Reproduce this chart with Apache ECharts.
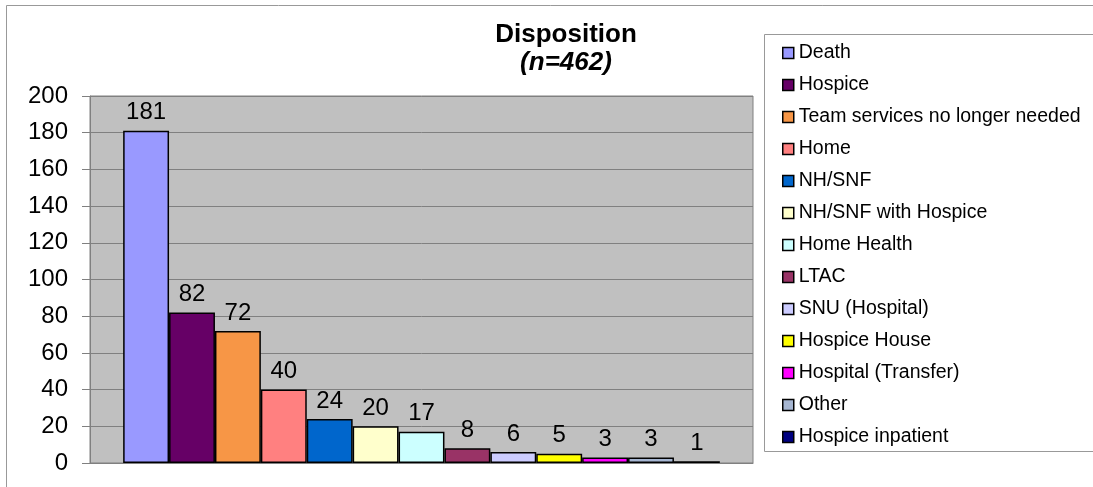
<!DOCTYPE html>
<html>
<head>
<meta charset="utf-8">
<script src="https://cdn.jsdelivr.net/npm/echarts@6/dist/echarts.min.js"></script>
<style>
  html, body { margin: 0; padding: 0; background: #fff; }
  #chart { width: 1093px; height: 487px; }
</style>
</head>
<body>
<div id="chart"></div>
<script>
// Disposition categories and patient counts
const categories = [
  'Death', 'Hospice', 'Team services no longer needed', 'Home', 'NH/SNF',
  'NH/SNF with Hospice', 'Home Health', 'LTAC', 'SNU (Hospital)',
  'Hospice House', 'Hospital (Transfer)', 'Other', 'Hospice inpatient'
];
const counts = [181, 82, 72, 40, 24, 20, 17, 8, 6, 5, 3, 3, 1];
const colors = [
  '#9999FF', '#660066', '#F79646', '#FF8080', '#0066CC',
  '#FFFFCC', '#CCFFFF', '#993366', '#CCCCFF',
  '#FFFF00', '#FF00FF', '#A6B6D2', '#000080'
];
const yTicks = { min: 0, max: 200, interval: 20 };

const FONT = "'Liberation Sans', Arial, sans-serif";

const series = categories.map((name, i) => ({
  name: name,
  type: 'bar',
  data: [counts[i]],
  barGap: '0%',
  barCategoryGap: '10%',
  itemStyle: { color: colors[i], borderColor: '#000', borderWidth: 1.5 },
  label: {
    show: true,
    position: 'top',
    distance: 6,
    color: '#000',
    fontFamily: FONT,
    fontSize: 24
  },
  emphasis: { disabled: true }
}));

const chart = echarts.init(document.getElementById('chart'), null, { renderer: 'canvas' });
chart.setOption({
  animation: false,
  backgroundColor: '#fff',
  color: colors,
  title: {
    text: 'Disposition',
    subtext: '(n=462)',
    left: 561,
    top: 17,
    textAlign: 'center',
    itemGap: 2,
    textStyle: { fontFamily: FONT, fontSize: 26, fontWeight: 'bold', color: '#000' },
    subtextStyle: { fontFamily: FONT, fontSize: 26, fontWeight: 'bold', fontStyle: 'italic', color: '#000' }
  },
  graphic: [
    {
      type: 'rect', z: -10, silent: true,
      shape: { x: 6.5, y: 5.5, width: 1200, height: 600 },
      style: { fill: 'none', stroke: '#999', lineWidth: 1 }
    },
    {
      type: 'rect', z: -5, silent: true,
      shape: { x: 764.5, y: 34.5, width: 400, height: 417 },
      style: { fill: '#fff', stroke: '#999', lineWidth: 1 }
    }
  ],
  legend: {
    orient: 'vertical',
    left: 777,
    top: 38,
    itemWidth: 11,
    itemHeight: 11,
    itemGap: 12,
    icon: 'rect',
    selectedMode: false,
    itemStyle: { borderColor: '#000', borderWidth: 1.5 },
    textStyle: { fontFamily: FONT, fontSize: 19.5, color: '#000', lineHeight: 20 },
    data: categories
  },
  grid: {
    left: 90,
    top: 96,
    right: 340,
    bottom: 24,
    show: true,
    backgroundColor: '#C0C0C0',
    borderColor: '#808080',
    borderWidth: 1
  },
  xAxis: {
    type: 'category',
    data: [''],
    axisLine: { show: true, lineStyle: { color: '#808080', width: 1 } },
    axisTick: { show: false },
    axisLabel: { show: false },
    splitLine: { show: false }
  },
  yAxis: {
    type: 'value',
    min: yTicks.min,
    max: yTicks.max,
    interval: yTicks.interval,
    axisLine: { show: true, lineStyle: { color: '#808080', width: 1 } },
    axisTick: { show: true, length: 8, lineStyle: { color: '#808080' } },
    axisLabel: { fontFamily: FONT, fontSize: 24, color: '#000', margin: 22 },
    splitLine: { show: true, lineStyle: { color: '#808080', width: 1 } }
  },
  series: series
});
</script>
</body>
</html>
